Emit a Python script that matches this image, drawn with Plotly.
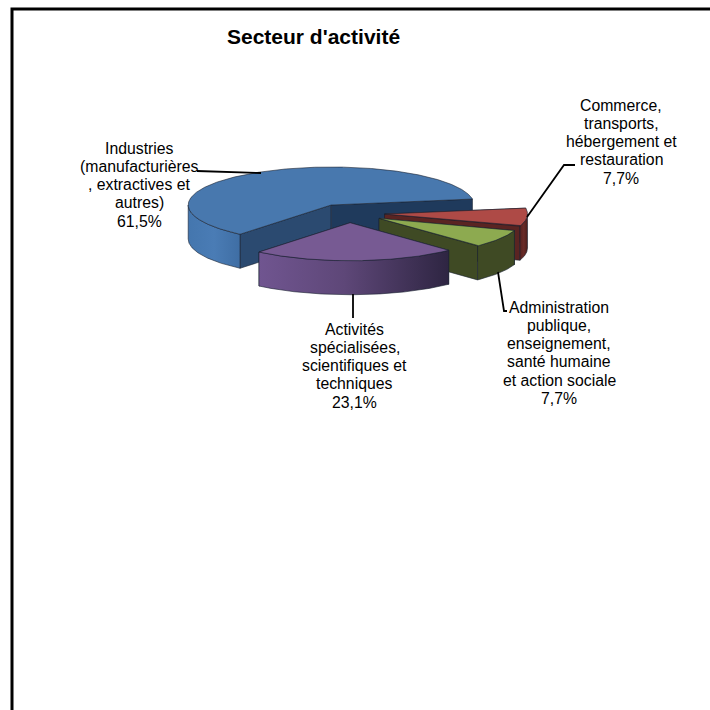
import math
import plotly.graph_objects as go

categories = ["Industries (manufacturières, extractives et autres)",
              "Activités spécialisées, scientifiques et techniques",
              "Administration publique, enseignement, santé humaine et action sociale",
              "Commerce, transports, hébergement et restauration"]
shares = [61.5, 23.1, 7.7, 7.7]
explosion = [0.25, 0.25, 0.25, 0.25]
first_angle = 9.0
title_text = "Secteur d'activité"
label_lines = [["Industries", "(manufacturières", ", extractives et", "autres)", "61,5%"],
               ["Activités", "spécialisées,", "scientifiques et", "techniques", "23,1%"],
               ["Administration", "publique,", "enseignement,", "santé humaine", "et action sociale", "7,7%"],
               ["Commerce,", "transports,", "hébergement et", "restauration", "7,7%"]]

# style and layout
CX, CY, RX, RY, DEPTH = 348.9, 213.25, 143.0, 38.0, 34.0
top_col = ["#4878AE", "#775A93", "#8DAA50", "#AE4A46"]
face_col = [("#2B4A70", "#1F3A5C"), ("#3A2C4C", "#3A2C4C"), ("#3F4A24", "#3F4A24"), ("#5A2422", "#5A2422")]
wall_scale = [
    [[0, "#4476AE"], [0.5, "#4A7CB5"], [1, "#3F6EA4"]],
    [[0, "#705590"], [0.45, "#5E4778"], [1, "#2E2542"]],
    [[0, "#3F4A24"], [1, "#3F4A24"]],
    [[0, "#562220"], [0.5, "#6A2B28"], [1, "#4A1E1C"]],
]
edge = "#1A2230"
draw_order = [0, 3, 2, 1]
label_x = [139, 354.5, 559, 621]
label_first_y = [148, 329, 307, 105]
line_step = 18.3
leaders = [[(197, 171), (261, 173)],
           [(353, 294), (353, 318)],
           [(498, 272), (504, 311), (507, 311)],
           [(527, 217), (564, 165), (575, 165)]]

total = sum(shares)
fig = go.Figure()
start = first_angle
slices = []
for s, e in zip(shares, explosion):
    sweep = s / total * 360
    slices.append((start, start + sweep, e))
    start += sweep


def pt(ax, ay, t, dz=0.0):
    r = math.radians(t)
    return ax + RX * math.cos(r), ay - RY * math.sin(r) + dz


def poly(xs, ys, color=None, grad=None):
    kw = dict(x=xs + xs[:1], y=ys + ys[:1], mode="lines", fill="toself",
              line=dict(color=edge, width=0.6), hoverinfo="skip", showlegend=False)
    if grad:
        kw["fillgradient"] = dict(type="horizontal", colorscale=grad)
    else:
        kw["fillcolor"] = color
    fig.add_trace(go.Scatter(**kw))


for i in draw_order:
    t0, t1, e = slices[i]
    mid = math.radians((t0 + t1) / 2)
    ax, ay = CX + e * RX * math.cos(mid), CY - e * RY * math.sin(mid)
    # cut faces
    for j, t in enumerate((t1, t0)):
        px, py = pt(ax, ay, t)
        poly([ax, px, px, ax], [ay, py, py + DEPTH, ay + DEPTH], color=face_col[i][j])
    # outer wall: the part of the rim that faces the viewer
    for a, b in ((t0, t1), (t0 - 360, t1 - 360)):
        lo, hi = max(a, 180), min(b, 360)
        if hi > lo:
            n = max(int(hi - lo), 2) * 2
            ts = [lo + (hi - lo) * k / n for k in range(n + 1)]
            top = [pt(ax, ay, t) for t in ts]
            bot = [pt(ax, ay, t, DEPTH) for t in reversed(ts)]
            poly([p[0] for p in top + bot], [p[1] for p in top + bot], grad=wall_scale[i])
    # top
    n = int(t1 - t0) * 2
    arc = [pt(ax, ay, t0 + (t1 - t0) * k / n) for k in range(n + 1)]
    poly([ax] + [p[0] for p in arc], [ay] + [p[1] for p in arc], color=top_col[i])

shapes = [dict(type="rect", xref="x", yref="y", x0=12, y0=9, x1=730, y1=730,
               line=dict(color="black", width=3), fillcolor="rgba(0,0,0,0)", layer="below")]
for pts in leaders:
    path = "M" + " L".join("%g,%g" % p for p in pts)
    shapes.append(dict(type="path", xref="x", yref="y", path=path,
                       line=dict(color="black", width=1.8)))

font = "Liberation Sans, Arial, sans-serif"
annotations = [dict(text="<b>%s</b>" % title_text, x=313.5, y=36.5, xref="x", yref="y", showarrow=False,
                    font=dict(family=font, size=21, color="black"))]
for lines, x, y0 in zip(label_lines, label_x, label_first_y):
    for k, line in enumerate(lines):
        annotations.append(dict(text=line, x=x, y=y0 + k * line_step, xref="x", yref="y", showarrow=False,
                                align="center", font=dict(family=font, size=15.8, color="black")))

fig.update_layout(
    width=710, height=710, margin=dict(l=0, r=0, t=0, b=0),
    paper_bgcolor="white", plot_bgcolor="white", showlegend=False,
    xaxis=dict(range=[0, 710], visible=False, fixedrange=True),
    yaxis=dict(range=[710, 0], visible=False, fixedrange=True),
    shapes=shapes, annotations=annotations,
)
fig.write_html("out.html", config={"displayModeBar": False},
               post_script="document.body.style.margin='0';document.body.style.overflow='hidden';")
